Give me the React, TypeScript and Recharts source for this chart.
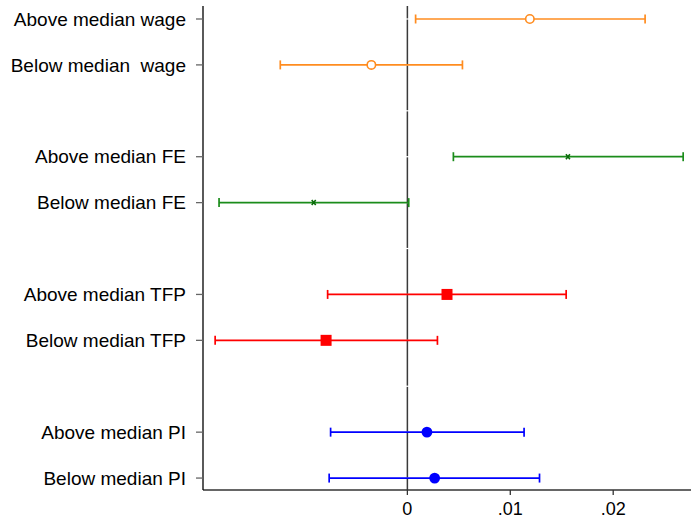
import { ScatterChart, Scatter, XAxis, YAxis, ErrorBar, ReferenceLine } from 'recharts'

const labels = [
  'Above median wage',
  'Below median  wage',
  'Above median FE',
  'Below median FE',
  'Above median TFP',
  'Below median TFP',
  'Above median PI',
  'Below median PI',
]
const rows = [0, 1, 3, 4, 6, 7, 9, 10]
const coefs = [0.0119, -0.0035, 0.0156, -0.0091, 0.00385, -0.0079, 0.0019, 0.00265]
const lower = [0.0008, -0.01235, 0.00447, -0.0183, -0.00775, -0.01868, -0.00746, -0.0076]
const upper = [0.0231, 0.00535, 0.0268, 0.00013, 0.01543, 0.00292, 0.01134, 0.01284]
const xTicks = [0, 0.01, 0.02]
const allRows = [0, 1, 2, 3, 4, 5, 6, 7, 8, 9, 10]

const FONT = '"Liberation Sans", Arial, sans-serif'

const groups = [
  { key: 'wage', color: '#ff8c1f', marker: 'hollow' },
  { key: 'fe', color: '#1a8c1a', marker: 'x' },
  { key: 'tfp', color: '#ff0000', marker: 'square' },
  { key: 'pi', color: '#0000ff', marker: 'dot' },
]

const points = labels.map((label, i) => ({
  label,
  row: rows[i],
  coef: coefs[i],
  err: [coefs[i] - lower[i], upper[i] - coefs[i]],
}))

const rowLabel = (v: number) => {
  const i = rows.indexOf(v)
  return i >= 0 ? labels[i] : ''
}

const fmtX = (v: number) => (v === 0 ? '0' : String(v).replace(/^0/, ''))

// recharts' Text collapses double spaces, so draw the row labels ourselves
function RowTick(p: any) {
  const { x, y, payload } = p
  return (
    <text x={x} y={y} dy="0.355em" textAnchor="end" fontSize={19} fontFamily={FONT} fill="#000" xmlSpace="preserve" style={{ whiteSpace: 'pre' }}>
      {rowLabel(payload.value)}
    </text>
  )
}

function makeShape(marker: string, color: string) {
  return (p: any) => {
    const { cx, cy } = p
    if (marker === 'hollow') return <circle cx={cx} cy={cy} r={4.2} fill="#fff" stroke={color} strokeWidth={1.6} />
    if (marker === 'x')
      return (
        <path
          d={`M${cx - 2},${cy - 2.5}L${cx + 2},${cy + 2.5}M${cx + 2},${cy - 2.5}L${cx - 2},${cy + 2.5}`}
          stroke="#0b6b0b"
          strokeWidth={1.6}
          fill="none"
        />
      )
    if (marker === 'square') return <rect x={cx - 5.5} y={cy - 5.5} width={11} height={11} fill={color} />
    return <circle cx={cx} cy={cy} r={5.4} fill={color} />
  }
}

export default function App() {
  return (
    <div style={{ position: 'absolute', left: 0, top: 0, background: '#fff' }}>
      <ScatterChart width={691} height={518} margin={{ top: 6, right: 0, bottom: 0, left: 0 }}>
        <XAxis
          type="number"
          dataKey="coef"
          domain={[-0.01986, 0.02756]}
          ticks={xTicks}
          tickFormatter={fmtX}
          allowDataOverflow
          height={28}
          tickSize={5}
          tickMargin={7}
          axisLine={{ stroke: '#333', strokeWidth: 1.3 }}
          tickLine={{ stroke: '#333', strokeWidth: 1.3 }}
          tick={{ fill: '#000', fontSize: 18, fontFamily: FONT }}
        />
        <YAxis
          type="number"
          dataKey="row"
          domain={[-0.283, 10.26]}
          reversed
          ticks={rows}
          allowDataOverflow
          interval={0}
          width={203}
          tickSize={7}
          tickMargin={10}
          axisLine={{ stroke: '#000', strokeWidth: 1.3 }}
          tickLine={{ stroke: '#666', strokeWidth: 1.3 }}
          tick={<RowTick />}
        />
        <ReferenceLine x={0} stroke="#3a3a3a" strokeWidth={1.5} />
        {allRows.map(r => (
          <ReferenceLine
            key={r}
            segment={[{ x: -0.0002, y: r }, { x: 0.0002, y: r }]}
            stroke="#fff"
            strokeWidth={1.2}
          />
        ))}
        {groups.map((g, gi) => (
          <Scatter
            key={g.key}
            data={points.slice(gi * 2, gi * 2 + 2)}
            fill={g.color}
            shape={makeShape(g.marker, g.color)}
            isAnimationActive={false}
          >
            <ErrorBar dataKey="err" direction="x" width={4.5} stroke={g.color} strokeWidth={1.7} isAnimationActive={false} />
          </Scatter>
        ))}
      </ScatterChart>
    </div>
  )
}
